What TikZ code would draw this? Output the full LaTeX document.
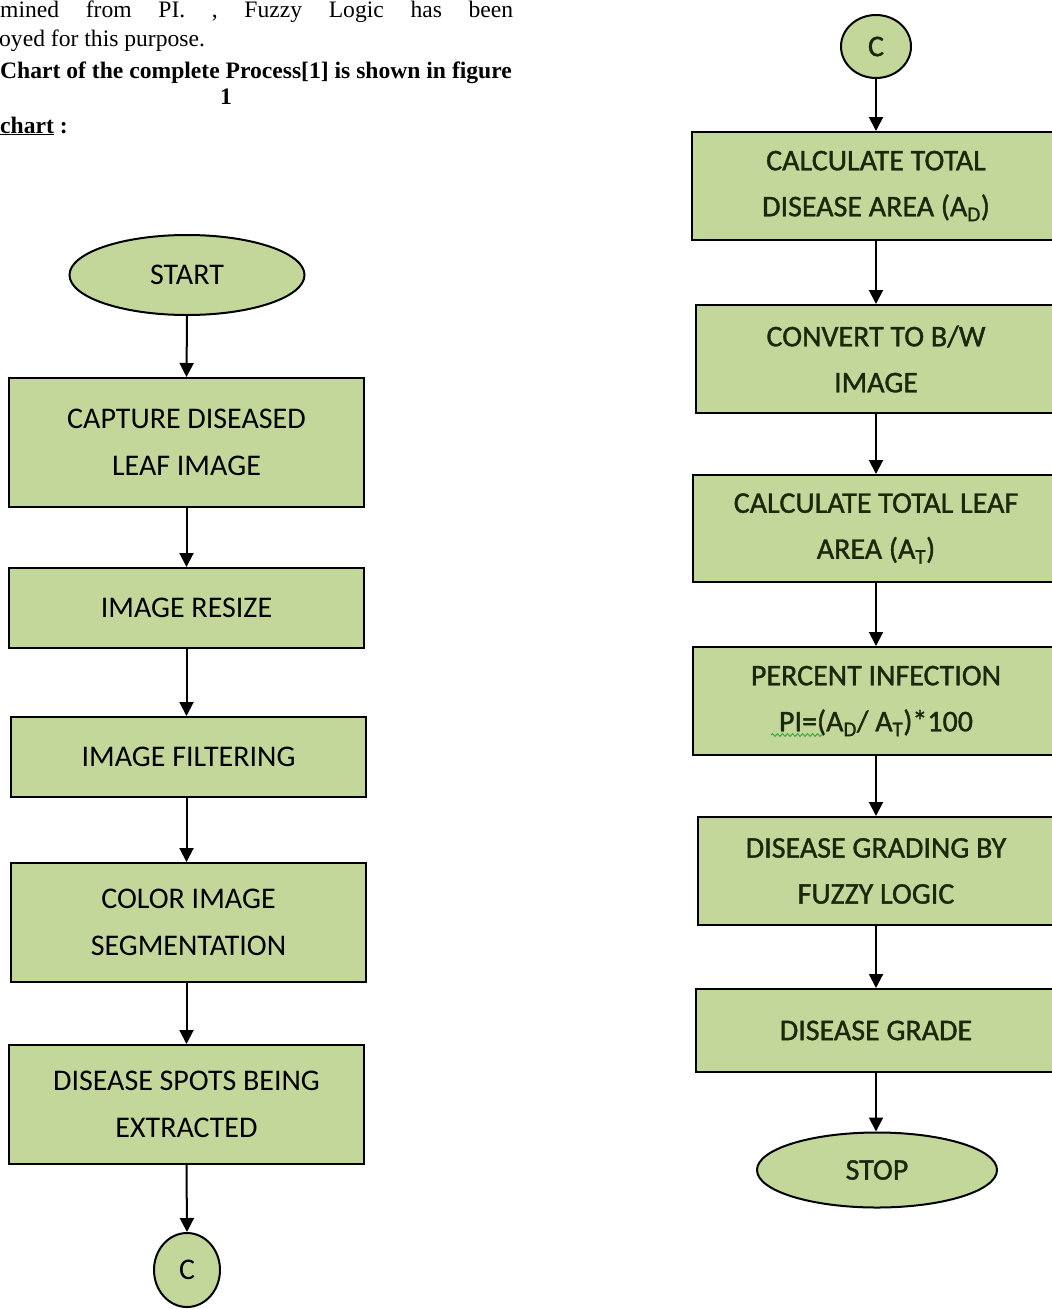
\documentclass[tikz,border=0pt]{standalone}
\usepackage{fontspec}
\setmainfont{Liberation Serif}
\newfontfamily\boxfont{Carlito}
\newfontfamily\rboxfont[FakeBold=1.2]{Carlito}
\usetikzlibrary{arrows.meta,shapes.geometric,decorations.pathmorphing}
\definecolor{boxgreen}{HTML}{C4D79B}
\definecolor{rtext}{RGB}{28,40,12}
\definecolor{spell}{RGB}{60,170,60}
\begin{document}
\begin{tikzpicture}[x=1pt,y=-1pt,
  stepbox/.style={draw=black, line width=2pt, fill=boxgreen, rectangle, inner sep=0pt,
    align=center, font=\boxfont\fontsize{30}{47}\selectfont, text=black},
  rbox/.style={stepbox, text=rtext, font=\rboxfont\fontsize{30}{46}\selectfont},
  term/.style={draw=black, line width=2pt, fill=boxgreen, ellipse, inner sep=0pt,
    font=\boxfont\fontsize{30}{36}\selectfont},
  rterm/.style={term, text=rtext, font=\rboxfont\fontsize{30}{36}\selectfont},
  arr/.style={line width=2pt, -{Triangle[width=14pt,length=14pt]}},
  ptext/.style={anchor=base west, inner sep=0pt, font=\fontsize{23.6}{29}\selectfont}
]
\fill[white] (0,0) rectangle (1052,1309);
\useasboundingbox (0,0) rectangle (1052,1309);

% page text
\node[ptext] (t1) at (0,17) {\makebox[513pt][s]{mined\hfill from\hfill PI.\hfill ,\hfill Fuzzy\hfill Logic\hfill has\hfill been}};
\node[ptext] (t2) at (-1,46.5) {oyed for this purpose.};
\node[ptext] (t3) at (0,78) {\bfseries Chart of the complete Process[1] is shown in figure};
\node[ptext, anchor=base] (t4) at (226,104) {\bfseries 1};
\node[ptext] (t5) at (0,133) {\bfseries\underline{chart} :};

% left column
\node[term, minimum width=235pt, minimum height=80pt] (start) at (187,275) {START};
\node[stepbox, minimum width=355pt, minimum height=129pt] (b1) at (186.5,442.5) {CAPTURE DISEASED\\LEAF IMAGE};
\node[stepbox, minimum width=355pt, minimum height=80pt] (b2) at (186.5,608) {IMAGE RESIZE};
\node[stepbox, minimum width=355pt, minimum height=80pt] (b3) at (188.5,757) {IMAGE FILTERING};
\node[stepbox, minimum width=355pt, minimum height=119pt] (b4) at (188.5,922.5) {COLOR IMAGE\\SEGMENTATION};
\node[stepbox, minimum width=355pt, minimum height=119pt] (b5) at (186.5,1104.5) {DISEASE SPOTS BEING\\EXTRACTED};
\node[term, minimum width=66pt, minimum height=74pt] (cL) at (187,1270) {C};

\draw[arr] (start.south) -- (b1.north);
\draw[arr] (b1.south) -- (b2.north);
\draw[arr] (b2.south) -- (b2.south |- b3.north);
\draw[arr] (b3.south -| b2.south) -- (b2.south |- b4.north);
\draw[arr] (b4.south -| b5.north) -- (b5.north);
\draw[arr] (b5.south) -- (cL.north);

% right column
\node[rterm, minimum width=70pt, minimum height=63pt] (cR) at (876,46.5) {C};
\node[rbox, minimum width=368pt, minimum height=108pt] (r1) at (876,186) {CALCULATE TOTAL\\DISEASE AREA (A\textsubscript{D})};
\node[rbox, minimum width=360pt, minimum height=108pt] (r2) at (876,359) {CONVERT TO B/W\\IMAGE};
\node[rbox, minimum width=366pt, minimum height=107pt] (r3) at (876,528.5) {CALCULATE TOTAL LEAF\\AREA (A\textsubscript{T})};
\node[rbox, minimum width=366pt, minimum height=108pt] (r4) at (876,701) {PERCENT INFECTION\\PI=(A\textsubscript{D}/ A\textsubscript{T})*100};
\node[rbox, minimum width=356pt, minimum height=108pt] (r5) at (876,871) {DISEASE GRADING BY\\FUZZY LOGIC};
\node[rbox, minimum width=360pt, minimum height=83pt] (r6) at (876,1030.5) {DISEASE GRADE};
\node[rterm, minimum width=240pt, minimum height=75pt] (stop) at (877,1170) {STOP};

\draw[arr] (cR.south) -- (r1.north);
\draw[arr] (r1.south) -- (r2.north);
\draw[arr] (r2.south) -- (r3.north);
\draw[arr] (r3.south) -- (r4.north);
\draw[arr] (r4.south) -- (r5.north);
\draw[arr] (r5.south) -- (r6.north);
\draw[arr] (r6.south) -- (r6.south |- stop.north);

% spell-check squiggle under "I=("
\draw[spell, line width=1pt, decorate, decoration={snake, segment length=5pt, amplitude=1.4pt}] (771,735) -- (822,735);
\end{tikzpicture}
\end{document}
